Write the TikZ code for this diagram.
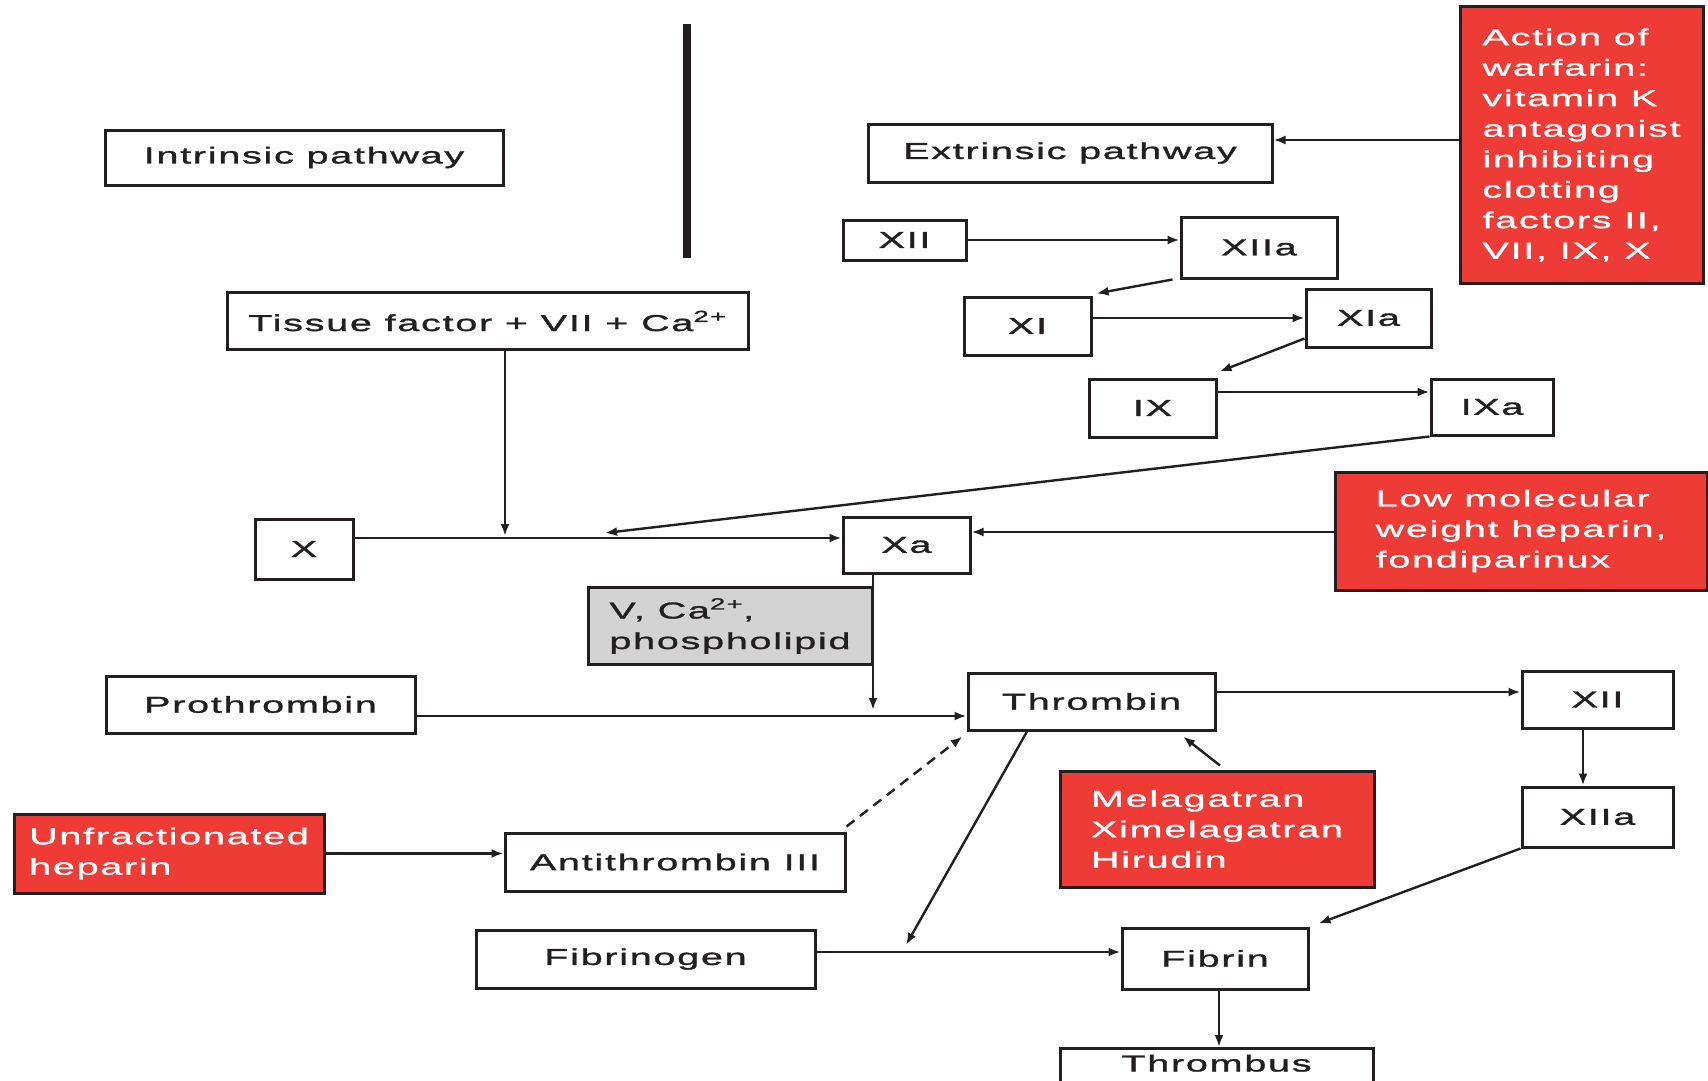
\documentclass[tikz,border=0pt]{standalone}
\usepackage{fontspec}
\setmainfont{Liberation Sans}[FakeStretch=1.72,LetterSpace=7.5,FakeBold=1.3]
\usetikzlibrary{arrows.meta}
\definecolor{redbox}{RGB}{238,59,54}
\definecolor{graybox}{RGB}{211,211,212}
\definecolor{ink}{RGB}{35,31,32}
\begin{document}
\begin{tikzpicture}[x=1pt,y=-1pt,
  every node/.style={font=\fontsize{23}{30.5}\selectfont},
  wbox/.style={draw=ink, line width=3pt, fill=white, inner sep=0pt, align=center, text=ink},
  rbox/.style={draw=ink, line width=3pt, fill=redbox, inner sep=0pt, align=left, text=white},
  gbox/.style={draw=ink, line width=3pt, fill=graybox, inner sep=0pt, align=left, text=ink},
  arr/.style={draw=ink, line width=2.4pt, -{Latex[length=12pt,width=9pt]}},
  dsh/.style={dash pattern=on 10pt off 7pt}]
\clip (0,0) rectangle (1708,1081);
\fill[white] (0,0) rectangle (1708,1081);
% thick divider
\coordinate (d1) at (687,24);
\coordinate (d2) at (687,258);
\draw[ink, line width=8pt] (d1) -- (d2);
% nodes
\node[wbox, minimum width=398, minimum height=55] (intr) at (304,157.5) {Intrinsic pathway};
\node[wbox, minimum width=404, minimum height=58] (extr) at (1070,153) {Extrinsic pathway};
\node[rbox, minimum width=243, minimum height=276] (warf) at (1581.5,145) {Action of\\warfarin:\\vitamin K\\antagonist\\inhibiting\\clotting\\factors II,\\VII, IX, X};
\node[wbox, minimum width=123, minimum height=40] (xii) at (904.5,240) {XII};
\node[wbox, minimum width=156, minimum height=61] (xiia) at (1259,247.5) {XIIa};
\node[wbox, minimum width=127, minimum height=58] (xi) at (1027.5,326) {XI};
\node[wbox, minimum width=125, minimum height=58] (xia) at (1368.5,318) {XIa};
\node[wbox, minimum width=127, minimum height=58] (ix) at (1152.5,408) {IX};
\node[wbox, minimum width=122, minimum height=56] (ixa) at (1492,407) {IXa};
\node[wbox, minimum width=521, minimum height=57] (tissue) at (487.5,321) {Tissue factor + VII + Ca\textsuperscript{2+}};
\node[wbox, minimum width=98, minimum height=60] (nx) at (304,549) {X};
\node[wbox, minimum width=127, minimum height=56] (xa) at (906.5,545) {Xa};
\node[rbox, minimum width=372, minimum height=118] (lmw) at (1521,531) {Low molecular\\weight heparin,\\fondiparinux};
\node[gbox, minimum width=284, minimum height=77] (vca) at (730,626) {V, Ca\textsuperscript{2+},\\phospholipid};
\node[wbox, minimum width=309, minimum height=57] (pro) at (260.5,704.5) {Prothrombin};
\node[wbox, minimum width=247, minimum height=57] (thr) at (1091.5,701.5) {Thrombin};
\node[wbox, minimum width=151, minimum height=57] (xiib) at (1597.5,699.5) {XII};
\node[wbox, minimum width=151, minimum height=60] (xiiab) at (1597.5,817) {XIIa};
\node[rbox, minimum width=314, minimum height=116] (mel) at (1217,829) {Melagatran\\Ximelagatran\\Hirudin};
\node[rbox, minimum width=310, minimum height=79] (unf) at (169,853.5) {Unfractionated\\heparin};
\node[wbox, minimum width=340, minimum height=58] (atiii) at (675,862) {Antithrombin III};
\node[wbox, minimum width=339, minimum height=58] (fbg) at (645.5,959) {Fibrinogen};
\node[wbox, minimum width=186, minimum height=61] (fib) at (1215,958.5) {Fibrin};
\node[wbox, minimum width=313, text height=23, text depth=33, inner ysep=0pt, anchor=north] (thb) at (1216.5,1047) {Thrombus};
% helper coordinates
\coordinate (y140) at (0,140);
\coordinate (y392) at (0,392);
\coordinate (y538) at (0,538);
\coordinate (y532) at (0,532);
\coordinate (y716) at (0,716);
\coordinate (y692) at (0,692);
\coordinate (y952) at (0,952);
\coordinate (x1583) at (1583,0);
\coordinate (x1219) at (1219,0);
\coordinate (j1) at (605,533);
\coordinate (j2) at (505,536);
\coordinate (j3) at (873,710);
\coordinate (j4) at (906,945);
% connectors
\draw[arr] (warf.west |- y140) -- (extr.east |- y140);
\draw[arr] (xii.east) -- (xiia.west |- xii.east);
\draw[arr] ([xshift=-7pt]xiia.south west) -- ([xshift=4pt,yshift=2pt]xi.north east);
\draw[arr] (xi.east |- xia.west) -- (xia.west);
\draw[arr] ([yshift=10pt]xia.south west) -- ([xshift=2pt,yshift=6pt]ix.north east);
\draw[arr] (ix.east |- y392) -- (ixa.west |- y392);
\draw[arr] (ixa.south west) -- (j1);
\draw[arr] (tissue.south -| j2) -- (j2);
\draw[arr] (nx.east |- y538) -- (xa.west |- y538);
\draw[arr] (lmw.west |- y532) -- (xa.east |- y532);
\draw[arr] (xa.south -| j3) -- (j3);
\draw[arr] (pro.east |- y716) -- (thr.west |- y716);
\draw[arr] (thr.east |- y692) -- (xiib.west |- y692);
\draw[arr] (xiib.south -| x1583) -- (xiiab.north -| x1583);
\draw[arr] (xiiab.south west) -- ([xshift=9pt,yshift=3pt]fib.north east);
\draw[arr] (fbg.east |- y952) -- (fib.west |- y952);
\draw[arr] ([xshift=-64.5pt]thr.south) -- (j4);
\draw[arr] ([xshift=3pt,yshift=4pt]mel.north) -- ([xshift=91.5pt,yshift=-5pt]thr.south);
\draw[arr] (unf.east) -- (atiii.west |- unf.east);
\draw[arr, dsh] ([yshift=5pt]atiii.north east) -- ([xshift=-4pt,yshift=-5pt]thr.south west);
\draw[arr] (fib.south -| x1219) -- (thb.north -| x1219);
\end{tikzpicture}
\end{document}
